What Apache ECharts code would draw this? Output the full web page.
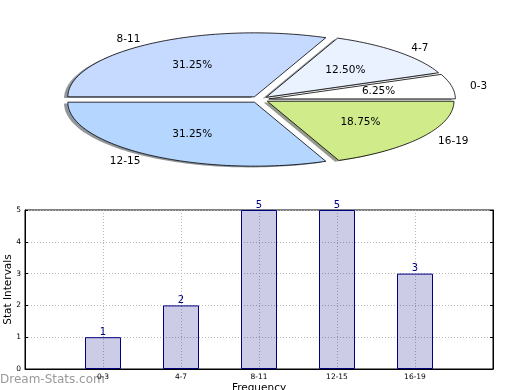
<!DOCTYPE html>
<html><head><meta charset="utf-8">
<script src="https://cdn.jsdelivr.net/npm/echarts@6/dist/echarts.min.js"></script>
<style>html,body{margin:0;padding:0;background:#fff}#c{width:520px;height:390px}</style>
</head><body><div id="c"></div>
<script>
// ---- data ----
const categories = ['0-3', '4-7', '8-11', '12-15', '16-19'];
const counts = [1, 2, 5, 5, 3];
const sliceColors = ['#FFFFFF', '#EAF1FF', '#C6D9FF', '#B5D6FF', '#D0EB8A'];
const yTickMax = 5;
const yTickStep = 1;
const watermark = 'Dream-Stats.com';
const FONT = 'DejaVu Sans';

// ---- pie geometry (ellipse drawn through a custom series) ----
const total = counts.reduce((a, b) => a + b, 0);
const PIE = { cx: 259.6, cy: 99.5, rx: 186.6, ry: 64, explode: 0.05, shadow: 0.02 };

function wedgePoints(ox, oy, a0, a1) {
  const pts = [[ox, oy]];
  const n = Math.max(8, Math.ceil((a1 - a0) / (Math.PI / 120)));
  for (let k = 0; k <= n; k++) {
    const t = a0 + (a1 - a0) * k / n;
    pts.push([ox + PIE.rx * Math.cos(t), oy - PIE.ry * Math.sin(t)]);
  }
  return pts;
}
function darker(hex) {
  const r = parseInt(hex.slice(1, 3), 16), g = parseInt(hex.slice(3, 5), 16), b = parseInt(hex.slice(5, 7), 16);
  return 'rgba(' + Math.round(r * 0.3) + ',' + Math.round(g * 0.3) + ',' + Math.round(b * 0.3) + ',0.55)';
}

function renderWedge(params, api) {
  const i = params.dataIndex;
  const v = api.value(0);
  let before = 0;
  for (let j = 0; j < i; j++) before += counts[j];
  const a0 = before / total * 2 * Math.PI;
  const a1 = (before + v) / total * 2 * Math.PI;
  const am = (a0 + a1) / 2;
  const ox = PIE.cx + PIE.explode * PIE.rx * Math.cos(am);
  const oy = PIE.cy - PIE.explode * PIE.ry * Math.sin(am);
  const pts = wedgePoints(ox, oy, a0, a1);
  const sh = pts.map(p => [p[0] - PIE.shadow * PIE.rx, p[1] + PIE.shadow * PIE.ry]);
  const pct = (v / total * 100).toFixed(2) + '%';
  const c = Math.cos(am), s = Math.sin(am);
  return {
    type: 'group',
    children: [
      { type: 'polygon', shape: { points: sh }, style: { fill: darker(sliceColors[i]) } },
      { type: 'polygon', shape: { points: pts }, style: { fill: sliceColors[i], stroke: '#000', lineWidth: 0.8 } },
      { type: 'text', z2: 10, x: ox + 0.6 * PIE.rx * c, y: oy - 0.6 * PIE.ry * s,
        style: { text: pct, fill: '#000', font: '10.5px "' + FONT + '"', align: 'center', verticalAlign: 'middle' } },
      { type: 'text', z2: 10, x: ox + 1.1 * PIE.rx * c, y: oy - 1.1 * PIE.ry * s + 1,
        style: { text: categories[i], fill: '#000', font: '10.5px "' + FONT + '"', align: c >= 0 ? 'left' : 'right', verticalAlign: 'middle' } }
    ]
  };
}

const xCats = [''].concat(categories).concat(['']);
const barData = ['-'].concat(counts).concat(['-']);

const chart = echarts.init(document.getElementById('c'), null, { renderer: 'canvas' });
chart.setOption({
  animation: false,
  backgroundColor: '#fff',
  textStyle: { fontFamily: FONT },
  grid: { left: 25, top: 210, right: 27, bottom: 21, containLabel: false, outerBoundsMode: 'none',
          show: true, borderColor: '#000', borderWidth: 1, backgroundColor: '#fff' },
  xAxis: {
    type: 'category', data: xCats, boundaryGap: false,
    axisLine: { lineStyle: { color: '#000', width: 1 } },
    axisTick: { show: false },
    axisLabel: { interval: 0, fontSize: 7.5, color: '#000', margin: 4, fontFamily: FONT },
    splitLine: { show: true, lineStyle: { color: '#b8b8b8', type: [1, 2], width: 1 } },
    name: 'Frequency', nameLocation: 'middle', nameGap: 14, nameMoveOverlap: false,
    nameTextStyle: { fontSize: 10.5, color: '#000', fontFamily: FONT }
  },
  yAxis: [{
    type: 'value', min: 0, max: yTickMax, interval: yTickStep,
    axisLine: { show: true, lineStyle: { color: '#000' } },
    axisTick: { show: true, inside: true, length: 3, lineStyle: { color: '#000' } },
    axisLabel: { fontSize: 7.5, color: '#000', margin: 4, fontFamily: FONT },
    splitLine: { show: true, lineStyle: { color: '#b8b8b8', type: [1, 2], width: 1 } },
    name: 'Stat Intervals', nameLocation: 'middle', nameGap: 11, nameRotate: 90, nameMoveOverlap: false,
    nameTextStyle: { fontSize: 10.5, color: '#000', fontFamily: FONT }
  }, {
    type: 'value', position: 'right', min: 0, max: yTickMax, interval: yTickStep,
    axisLine: { show: true, lineStyle: { color: '#000' } },
    axisTick: { show: true, inside: true, length: 3, lineStyle: { color: '#000' } },
    axisLabel: { show: false }, splitLine: { show: false }
  }],
  graphic: [{
    type: 'text', left: 0, top: 374,
    style: { text: watermark, fill: '#9a9a9a', font: '12px "' + FONT + '"' }
  }],
  series: [
    {
      type: 'custom', coordinateSystem: 'none', data: counts.map(v => [v]),
      renderItem: renderWedge, silent: true
    },
    {
      type: 'bar', data: barData, barWidth: 36, xAxisIndex: 0, yAxisIndex: 0,
      itemStyle: { color: 'rgba(0,0,128,0.2)', borderColor: '#000080', borderWidth: 1 },
      label: { show: true, position: 'top', distance: 0, color: '#000080', fontSize: 10, fontFamily: FONT }
    }
  ]
});
</script></body></html>
